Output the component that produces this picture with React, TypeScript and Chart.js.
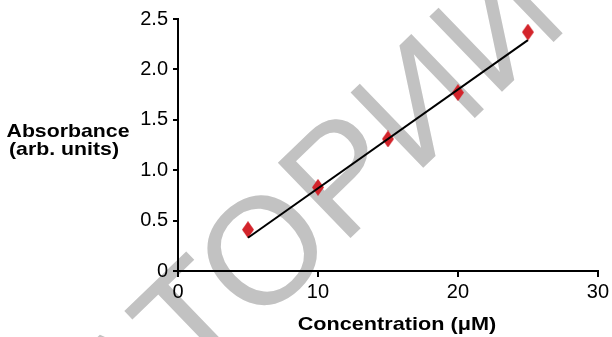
import { useEffect, useRef } from "react";
import { Chart, registerables } from "chart.js";

Chart.register(...registerables);

// Measured absorbance of the standards
const concentrations = [5, 10, 15, 20, 25];
const absorbance = [0.41, 0.83, 1.31, 1.77, 2.37];

// Linear calibration fit, end points
const fitX = [5, 25];
const fitY = [0.33, 2.29];

const xTicks = [0, 10, 20, 30];
const yTicks = [0, 0.5, 1.0, 1.5, 2.0, 2.5];

const xTitle = "Concentration (\u03bcM)";
const yTitleLines = ["Absorbance", "(arb. units)"];
const watermarkText = "ЛАБОРАТОРИИ";

const FONT = "'Liberation Sans', Arial, Helvetica, sans-serif";
const RED = "#d3242b";

function makeDiamond(): HTMLCanvasElement {
  const c = document.createElement("canvas");
  const w = 12;
  const h = 17;
  c.width = w;
  c.height = h;
  const g = c.getContext("2d")!;
  g.fillStyle = RED;
  g.beginPath();
  g.moveTo(w / 2, 0);
  g.lineTo(w, h / 2);
  g.lineTo(w / 2, h);
  g.lineTo(0, h / 2);
  g.closePath();
  g.fill();
  return c;
}

// Grey diagonal lettering behind the plot
const watermarkPlugin = {
  id: "watermark",
  beforeDraw(chart: any) {
    const ctx = chart.ctx as CanvasRenderingContext2D;
    const size = 152;
    ctx.save();
    ctx.font = `${size}px ${FONT}`;
    ctx.fillStyle = "#c2c2c2";
    const before = ctx.measureText("ЛАБОРАТ").width;
    const oW = ctx.measureText("О").width;
    const cap = size * 0.716;
    ctx.translate(266, 244);
    ctx.rotate((-44 * Math.PI) / 180);
    ctx.textBaseline = "alphabetic";
    ctx.fillText(watermarkText, -(before + oW / 2), cap / 2);
    ctx.restore();
  },
};

// Horizontal axis titles drawn in canvas space
const titlesPlugin = {
  id: "axisTitles",
  afterDraw(chart: any) {
    const ctx = chart.ctx as CanvasRenderingContext2D;
    const area = chart.chartArea;
    ctx.save();
    ctx.fillStyle = "#000";
    ctx.textAlign = "center";
    ctx.textBaseline = "alphabetic";

    const drawStretched = (text: string, x: number, y: number, stretch: number) => {
      ctx.save();
      ctx.translate(x, y);
      ctx.scale(stretch, 1);
      ctx.fillText(text, 0, 0);
      ctx.restore();
    };

    ctx.font = `bold 19px ${FONT}`;
    drawStretched(xTitle, (area.left + area.right) / 2 + 9, 330, 1.14);
    drawStretched(yTitleLines[0], 68, 137, 1.12);
    drawStretched(yTitleLines[1], 64, 155, 1.12);
    ctx.restore();
  },
};

export default function App() {
  const ref = useRef<HTMLCanvasElement | null>(null);

  useEffect(() => {
    if (!ref.current) return;
    const diamond = makeDiamond();
    const chart = new Chart(ref.current, {
      type: "scatter",
      data: {
        datasets: [
          {
            type: "line",
            label: "fit",
            data: fitX.map((x, i) => ({ x, y: fitY[i] })),
            borderColor: "#000",
            borderWidth: 2,
            pointRadius: 0,
            fill: false,
            order: 0,
          },
          {
            label: "standards",
            data: concentrations.map((x, i) => ({ x, y: absorbance[i] })),
            pointStyle: diamond,
            pointRadius: 6,
            backgroundColor: RED,
            borderColor: RED,
            order: 1,
          },
        ],
      },
      options: {
        responsive: false,
        animation: false,
        layout: { padding: { top: 19, right: 14, left: 0, bottom: 0 } },
        plugins: {
          legend: { display: false },
          tooltip: { enabled: false },
        },
        scales: {
          x: {
            type: "linear",
            min: 0,
            max: 30,
            afterBuildTicks: (scale: any) => {
              scale.ticks = xTicks.map((v) => ({ value: v }));
            },
            afterFit: (scale: any) => {
              scale.height = 66;
            },
            border: { display: true, color: "#000", width: 2 },
            grid: {
              display: true,
              drawOnChartArea: false,
              drawTicks: true,
              tickLength: 6,
              color: "#000",
              lineWidth: 2,
            },
            ticks: {
              color: "#000",
              padding: 3,
              maxRotation: 0,
              font: { family: FONT, size: 20 },
              callback: (v: any) => String(v),
            },
          },
          y: {
            type: "linear",
            min: 0,
            max: 2.5,
            afterBuildTicks: (scale: any) => {
              scale.ticks = yTicks.map((v) => ({ value: v }));
            },
            afterFit: (scale: any) => {
              scale.width = 178;
            },
            border: { display: true, color: "#000", width: 2 },
            grid: {
              display: true,
              drawOnChartArea: false,
              drawTicks: true,
              tickLength: 5,
              color: "#000",
              lineWidth: 2,
            },
            ticks: {
              color: "#000",
              padding: 5,
              font: { family: FONT, size: 20 },
              callback: (v: any) => (Number(v) === 0 ? "0" : Number(v).toFixed(1)),
            },
          },
        },
      },
      plugins: [watermarkPlugin, titlesPlugin],
    } as any);
    return () => chart.destroy();
  }, []);

  return (
    <div style={{ position: "absolute", left: 0, top: 0, width: 612, height: 337, background: "#fff" }}>
      <canvas ref={ref} width={612} height={337} style={{ display: "block" }} />
    </div>
  );
}
